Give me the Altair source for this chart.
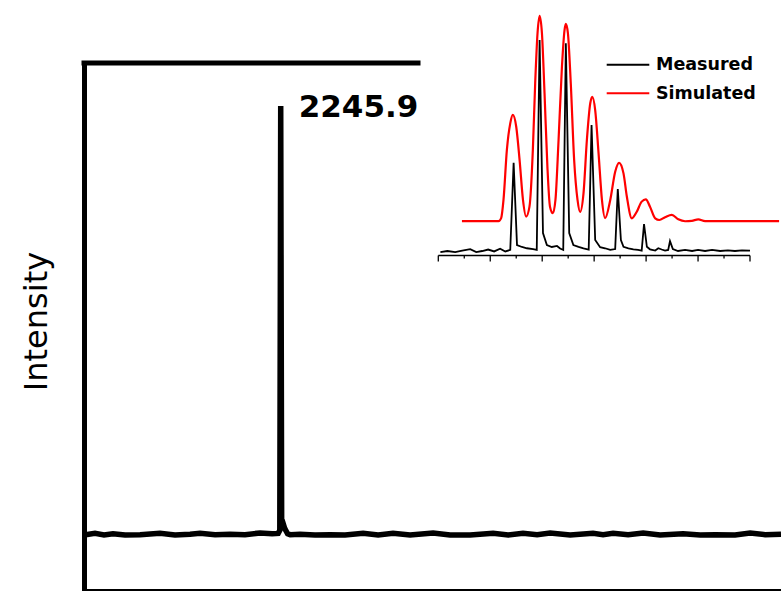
import altair as alt
import pandas as pd

# ---------------- main spectrum ----------------
main_mz = [990, 1060, 1118, 1175, 1252, 1348, 1475, 1571, 1667, 1731, 1827, 1922, 2018, 2114, 2191,
           2230, 2240, 2245.9, 2252, 2262, 2272, 2290, 2306, 2369, 2465, 2561, 2657, 2772, 2868, 2963,
           3072, 3219, 3327, 3455, 3602, 3698, 3793, 3883, 3966, 4094, 4240, 4304, 4368, 4464, 4560,
           4668, 4815, 4924, 5020, 5147, 5243, 5339, 5440]
main_int = [0.1, 0.5, 0.1, 0.4, 0.1, 0.2, 0.5, 0.1, 0.3, 0.5, 0.2, 0.3, 0.2, 0.6, 0.4,
            0.5, 1.2, 101, 2.5, 2.8, 1.6, 0.4, 0.2, 0.3, 0.1, 0.2, 0.1, 0.5, 0.1, 0.5,
            0.1, 0.6, 0.1, 0.1, 0.5, 0.1, 0.5, 0.2, 0.6, 0.1, 0.5, 0.2, 0.5, 0.2, 0.6,
            0.1, 0.4, 0.1, 0.2, 0.1, 0.6, 0.2, 0.3]
peak_label = ["2245.9"]
peak_mz = [2245.9]
peak_int = [101]

# ---------------- inset: isotope pattern ----------------
meas_mz = [2240.08, 2240.35, 2240.65, 2240.92, 2241.23, 2241.46, 2241.69, 2241.92, 2242.15, 2242.38, 2242.58, 2242.77,
           2242.90, 2243.03, 2243.22, 2243.41, 2243.65, 2243.79,
           2243.90, 2244.03, 2244.18, 2244.37, 2244.57, 2244.69, 2244.81,
           2244.91, 2245.04, 2245.20, 2245.40, 2245.59, 2245.79,
           2245.90, 2246.04, 2246.23, 2246.42, 2246.62, 2246.81,
           2246.91, 2247.03, 2247.13, 2247.32, 2247.51, 2247.69, 2247.83,
           2247.92, 2248.03, 2248.15, 2248.35, 2248.47, 2248.60, 2248.73, 2248.85,
           2248.92, 2249.03, 2249.23, 2249.50, 2249.77, 2250.00, 2250.27, 2250.54, 2250.85, 2251.15, 2251.42, 2251.69, 2252.00]
meas_int = [-0.5, 0, -0.5, 0.2, 0.9, -0.5, 0, 0.7, -0.2, 1.1, -0.2, 0.5,
            41.8, 2.8, 1.9, 1.3, 0.9, 0.5,
            100, 8.5, 2.8, 1.9, 2.4, 1.2, 0.5,
            98.4, 8.5, 2.8, 2.0, 1.3, 0.7,
            59.7, 5.2, 1.8, 1.3, 0.5, 0.9,
            29.4, 5.2, 2.0, 1.3, 0.8, 0.5, 0.2,
            12.8, 2.0, 0.8, 0.2, 1.3, 0.7, 0.2, 0.5,
            4.7, 0.9, 0, 0.5, 0, 0.5, 0, 0.5, 0, 0.3, 0, 0.3, 0.2]

sim_mz = [2240.91, 2242.32, 2242.42, 2242.51, 2242.64, 2242.77, 2242.87, 2243.00, 2243.13, 2243.26, 2243.38,
          2243.51, 2243.64, 2243.73, 2243.82, 2243.90, 2243.99, 2244.09, 2244.20, 2244.30, 2244.41,
          2244.51, 2244.63, 2244.76, 2244.86, 2244.91, 2244.99, 2245.10, 2245.23, 2245.36, 2245.46,
          2245.59, 2245.72, 2245.85, 2245.93, 2246.04, 2246.17, 2246.30, 2246.42,
          2246.62, 2246.81, 2246.96, 2247.13, 2247.26, 2247.45,
          2247.64, 2247.83, 2247.99, 2248.15, 2248.35, 2248.51,
          2248.73, 2248.99, 2249.24, 2249.50, 2249.76, 2250.01, 2250.27, 2250.96, 2253.12]
sim_int = [14.2, 14.2, 15.6, 24.2, 47.9, 60.5, 64.5, 58.9, 43.1, 24.2, 16.3,
           21.0, 47.9, 79.5, 103.2, 111.4, 103.2, 74.7, 40.0, 21.0, 17.9,
           24.2, 52.6, 87.3, 104.7, 107.6, 103.2, 79.5, 43.1, 24.2, 18.5,
           27.3, 52.6, 70.0, 73.1, 66.8, 46.3, 24.2, 15.6,
           24.2, 37.6, 41.8, 36.8, 25.7, 15.5,
           18.6, 23.4, 24.5, 21.0, 15.5, 14.7,
           16.0, 17.1, 15.0, 14.1, 14.3, 15.0, 14.2, 14.2, 14.2]

series_names = ["Measured", "Simulated"]
series_colors = ["#000000", "#ff0000"]
inset_major_ticks = [2240, 2242, 2244, 2246, 2248, 2250, 2252]
inset_minor_ticks = [2241, 2243, 2245, 2247, 2249, 2251]

FONT = "DejaVu Sans"

df_main = pd.DataFrame({"mz": main_mz, "intensity": main_int})
df_label = pd.DataFrame({"mz": peak_mz, "intensity": peak_int, "label": peak_label})
df_meas = pd.DataFrame({"imz": meas_mz, "ival": meas_int, "series": series_names[0]})
df_sim = pd.DataFrame({"imz": sim_mz, "ival": sim_int, "series": series_names[1]})
df_major = pd.DataFrame({"tick": inset_major_ticks})
df_minor = pd.DataFrame({"tick": inset_minor_ticks})
df_iaxis = pd.DataFrame({"a": [inset_major_ticks[0]], "b": [inset_major_ticks[-1]]})
df_leg = pd.DataFrame({"series": series_names})

# ---------------- main panel ----------------
xs = alt.Scale(domain=[990, 5440], nice=False, zero=False)
ys = alt.Scale(domain=[-13.05, 111.1], nice=False, zero=False)

x_axis = alt.Axis(domain=True, domainColor="black", domainWidth=5, domainCap="square",
                  ticks=False, labels=False, grid=False, title=None)
y_axis = alt.Axis(domain=True, domainColor="black", domainWidth=5, domainCap="square",
                  ticks=False, labels=False, grid=False, title="Intensity",
                  titleFont=FONT, titleFontSize=32, titleFontWeight="normal", titleColor="black",
                  titleAngle=270, titleX=-38, titleY=258, titleAlign="center",
                  titleBaseline="alphabetic")

main_line = alt.Chart(df_main).mark_line(color="black", strokeWidth=5.5).encode(
    x=alt.X("mz:Q", scale=xs, axis=x_axis),
    y=alt.Y("intensity:Q", scale=ys, axis=y_axis),
)

main_text = alt.Chart(df_label).mark_text(
    align="left", baseline="alphabetic", dx=18, dy=11.3,
    font=FONT, fontSize=31, fontWeight="bold", color="black"
).encode(x=alt.X("mz:Q", scale=xs), y=alt.Y("intensity:Q", scale=ys), text="label:N")

top_border = alt.Chart(df_label).mark_rule(color="black", strokeWidth=5, strokeCap="square").encode(
    x=alt.value(0), x2=alt.value(334), y=alt.value(0)
)

main_group = alt.layer(main_line, main_text, top_border)

# ---------------- inset ----------------
ixs = alt.Scale(domain=[2240, 2252], range=[354.3, 666], nice=False, zero=False)
iys = alt.Scale(domain=[0, 100], range=[188, -23], nice=False, zero=False)
cscale = alt.Scale(domain=series_names, range=series_colors)

meas_line = alt.Chart(df_meas).mark_line(strokeWidth=1.8).encode(
    x=alt.X("imz:Q", scale=ixs, axis=None),
    y=alt.Y("ival:Q", scale=iys, axis=None),
    color=alt.Color("series:N", scale=cscale, legend=None),
)
sim_line = alt.Chart(df_sim).mark_line(strokeWidth=2.2, interpolate="monotone").encode(
    x=alt.X("imz:Q", scale=ixs, axis=None),
    y=alt.Y("ival:Q", scale=iys, axis=None),
    color=alt.Color("series:N", scale=cscale, legend=None),
)
inset_domain = alt.Chart(df_iaxis).mark_rule(color="black", strokeWidth=1.4).encode(
    x=alt.X("a:Q", scale=ixs, axis=None), x2="b:Q", y=alt.value(192.5)
)
inset_major = alt.Chart(df_major).mark_rule(color="black", strokeWidth=1.3).encode(
    x=alt.X("tick:Q", scale=ixs, axis=None), y=alt.value(192.5), y2=alt.value(198.5)
)
inset_minor = alt.Chart(df_minor).mark_rule(color="black", strokeWidth=1.3).encode(
    x=alt.X("tick:Q", scale=ixs, axis=None), y=alt.value(192.5), y2=alt.value(195.5)
)

inset_group = alt.layer(sim_line, meas_line, inset_domain, inset_major, inset_minor)

# ---------------- legend of the inset ----------------
leg_y = alt.Y("series:N", scale=alt.Scale(type="point", domain=series_names, range=[1.7, 30.3], padding=0),
              axis=None)
leg_rule = alt.Chart(df_leg).mark_rule(strokeWidth=2).encode(
    x=alt.value(522.7), x2=alt.value(565.3), y=leg_y,
    color=alt.Color("series:N", scale=cscale, legend=None),
)
leg_text = alt.Chart(df_leg).mark_text(
    align="left", baseline="alphabetic", dy=5.6,
    font=FONT, fontSize=17.5, fontWeight="bold", color="black"
).encode(x=alt.value(572), y=leg_y, text="series:N")

legend_group = alt.layer(leg_rule, leg_text)

chart = alt.layer(main_group, inset_group, legend_group).resolve_scale(
    x="independent", y="independent"
).properties(
    width=697, height=528,
    padding={"left": 84, "top": 63, "right": 0, "bottom": 0},
    autosize=alt.AutoSizeParams(type="none"),
    background="white",
).configure_view(stroke=None)

chart.save("out.html", embed_options={"renderer": "svg", "actions": False})
